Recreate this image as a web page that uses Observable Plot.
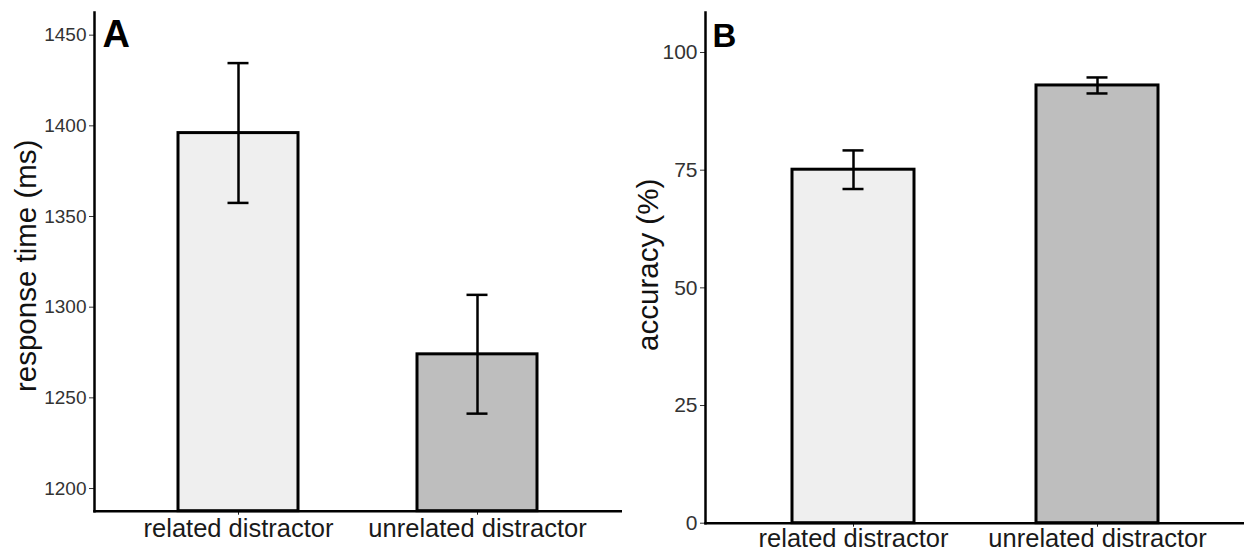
<!DOCTYPE html>
<html>
<head>
<meta charset="utf-8">
<script src="https://cdn.jsdelivr.net/npm/d3@7"></script>
<script src="https://cdn.jsdelivr.net/npm/@observablehq/plot@0.6"></script>
<style>
  html, body { margin: 0; padding: 0; background: #fff; }
  #wrap { display: flex; flex-direction: row; width: 1244px; height: 550px; }
  #wrap svg { display: block; }
</style>
</head>
<body>
<div id="wrap"></div>
<script>
// ---- data ----
const categories = ["related distractor", "unrelated distractor"];
const rtMean = [1396, 1274];
const rtLow = [1357.5, 1241.3];
const rtHigh = [1434.6, 1306.8];
const rtTicks = [1200, 1250, 1300, 1350, 1400, 1450];
const accMean = [75.1, 93.0];
const accLow = [71.0, 91.3];
const accHigh = [79.2, 94.7];
const accTicks = [0, 25, 50, 75, 100];
const panelLetters = ["A", "B"];
const yTitles = ["response time (ms)", "accuracy (%)"];

const FONT = "'Liberation Sans', Arial, Helvetica, sans-serif";

function panel(opts) {
  const rows = categories.map((c, i) => ({cat: c, mean: opts.mean[i], lo: opts.lo[i], hi: opts.hi[i]}));
  const y0 = opts.domain[0];
  return Plot.plot({
    width: 622,
    height: 550,
    marginLeft: opts.marginLeft,
    marginRight: opts.marginRight,
    marginTop: 12,
    marginBottom: opts.marginBottom,
    style: {fontFamily: FONT, background: "white", overflow: "visible"},
    x: {domain: categories, type: "band", paddingInner: 0.5, paddingOuter: 0.35, label: null},
    y: {domain: opts.domain, label: null},
    color: {domain: categories, range: ["#efefef", "#bebebe"]},
    marks: [
      Plot.barY(rows, {x: "cat", y1: y0, y2: "mean", fill: "cat", stroke: "black", strokeWidth: 3}),
      Plot.ruleX(rows, {x: "cat", y1: "lo", y2: "hi", stroke: "black", strokeWidth: 2.5}),
      Plot.tickY(rows, {x: "cat", y: "lo", insetLeft: opts.capInset, insetRight: opts.capInset, stroke: "black", strokeWidth: 2.5}),
      Plot.tickY(rows, {x: "cat", y: "hi", insetLeft: opts.capInset, insetRight: opts.capInset, stroke: "black", strokeWidth: 2.5}),
      Plot.axisY({ticks: opts.ticks, tickFormat: "d", tickSize: 5, tickPadding: 3, fontSize: opts.yFont, color: "#333", label: null}),
      Plot.axisX({tickSize: 4, tickPadding: opts.xPad, fontSize: 25.5, color: "#1a1a1a", label: null}),
      Plot.frame({anchor: "left", stroke: "black", strokeWidth: 2.5}),
      Plot.frame({anchor: "bottom", stroke: "black", strokeWidth: 2.5}),
      Plot.text([opts.title], {text: d => d, frameAnchor: "left", textAnchor: "middle", lineAnchor: "middle", rotate: -90, dx: opts.titleDx, dy: opts.titleDy, fontSize: 29.5, fill: "#111"}),
      Plot.text([opts.letter], {text: d => d, frameAnchor: "top-left", dx: opts.letterDx, dy: opts.letterDy, fontSize: opts.letterSize, fontWeight: "bold", fill: "black"})
    ]
  });
}

const wrap = document.getElementById("wrap");
wrap.append(panel({
  mean: rtMean, lo: rtLow, hi: rtHigh, ticks: rtTicks, domain: [1187.5, 1462.5],
  marginLeft: 94, marginRight: 1, marginBottom: 39.3, capInset: 49.5, xPad: 4, yFont: 19,
  title: yTitles[0], titleDx: -68, titleDy: 4,
  letter: panelLetters[0], letterDx: 8, letterDy: 8, letterSize: 38
}));
wrap.append(panel({
  mean: accMean, lo: accLow, hi: accHigh, ticks: accTicks, domain: [0, 108.5],
  marginLeft: 83, marginRight: 0, marginBottom: 27.3, capInset: 50.5, xPad: 2, yFont: 21,
  title: yTitles[1], titleDx: -57, titleDy: -3,
  letter: panelLetters[1], letterDx: 7, letterDy: 11, letterSize: 33
}));
</script>
</body>
</html>
